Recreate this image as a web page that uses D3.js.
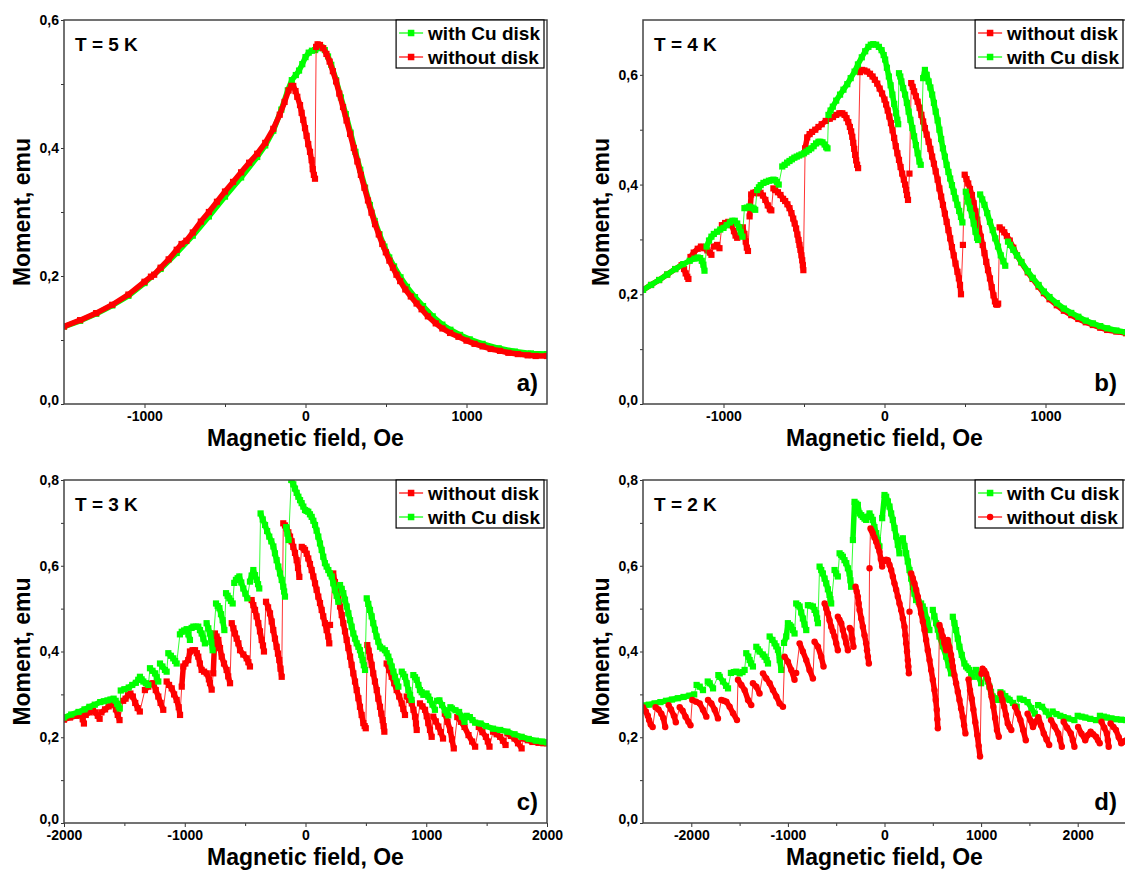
<!DOCTYPE html>
<html>
<head>
<meta charset="utf-8">
<script src="https://cdn.jsdelivr.net/npm/d3@7"></script>
<style>
  body { margin: 0; background: #fff; }
  svg text { font-family: "Liberation Sans", Arial, sans-serif; font-weight: bold; fill: #000; }
  .tick text { font-size: 14px; }
  .tick line { stroke: #333; }
</style>
</head>
<body>
<svg id="chart" width="1125" height="874"></svg>
<script>
// Moment vs champ magnétique, 4 températures (a: 5 K, b: 4 K, c: 3 K, d: 2 K)
// Chaque série = liste de branches [H (Oe), M (emu)], séparées par les sauts de flux

// --- a) T = 5 K
const aGreen = [[
  [-1500,.121],[-1400,.13],[-1300,.141],[-1200,.154],[-1100,.169],[-1000,.189],[-900,.211],[-800,.236],
  [-700,.263],[-600,.293],[-500,.324],[-400,.354],[-300,.386],[-250,.404],[-200,.427],[-150,.46],
  [-110,.49],[-85,.506],[-60,.514],[-40,.521],[-20,.531],[0,.542],[20,.549],[40,.552],[60,.553],
  [80,.556],[100,.557],[120,.553],[140,.543],[160,.53],[190,.506],[220,.479],[250,.453],[280,.424],
  [310,.394],[340,.366],[370,.338],[400,.311],[430,.286],[460,.265],[490,.246],[520,.229],[550,.215],
  [590,.198],[630,.183],[680,.167],[730,.153],[790,.137],[850,.124],[900,.116],[960,.108],[1020,.101],
  [1100,.094],[1200,.087],[1300,.082],[1400,.079],[1500,.078]
]];
const aRed = [
  [[-1500,.121],[-1400,.131],[-1300,.142],[-1200,.155],[-1100,.171],[-1000,.191],[-960,.199],[-940,.202],
   [-900,.213],[-850,.226],[-800,.241],[-770,.25],[-740,.255],[-700,.268],[-650,.285],[-600,.3],
   [-550,.316],[-500,.332],[-450,.347],[-400,.362],[-350,.377],[-300,.391],[-250,.408],[-200,.43],
   [-160,.452],[-130,.472],[-105,.49],[-88,.497],[-76,.497],[-62,.489],[-51,.48],[-34,.467],[-24,.455],
   [-14,.444],[-3,.431],[7,.419],[17,.406],[28,.394],[38,.381],[45,.367],[52,.358],[59,.352]],
  [[66,.558],[75,.562],[90,.561],[110,.556],[130,.547],[150,.535],[170,.52],[190,.504],[210,.485],
   [233,.464],[255,.443],[277,.422],[300,.4],[322,.379],[344,.358],[366,.338],[388,.318],[410,.299],
   [432,.281],[455,.265],[477,.25],[499,.237],[521,.224],[543,.213],[565,.202],[588,.192],[620,.179],
   [654,.168],[690,.157],[721,.148],[760,.137],[809,.126],[850,.118],[898,.111],[950,.105],[1000,.099],
   [1050,.094],[1100,.09],[1150,.086],[1208,.083],[1260,.08],[1319,.078],[1380,.076],[1430,.075],[1500,.075]]
];

// --- b) T = 4 K
const bRed = [
  [[-1500,.208],[-1450,.217],[-1400,.226],[-1350,.236],[-1300,.246],[-1260,.253],[-1245,.246],[-1235,.238],[-1225,.232],[-1218,.228]],
  [[-1205,.268],[-1185,.276],[-1160,.283],[-1140,.287],[-1120,.284],[-1100,.28],[-1085,.276],[-1075,.272]],
  [[-1060,.287],[-1040,.29],[-1025,.284]],
  [[-1010,.326],[-990,.33],[-970,.332],[-950,.326],[-935,.315],[-925,.307],[-915,.303]],
  [[-880,.322],[-870,.31],[-862,.296],[-855,.285],[-848,.279]],
  [[-838,.342],[-828,.382],[-815,.385],[-800,.386],[-785,.384],[-770,.385],[-755,.38],[-740,.372],[-725,.362],[-712,.355],[-703,.353]],
  [[-690,.393],[-679,.39],[-662,.386],[-646,.381],[-630,.374],[-617,.37],[-603,.364],[-590,.357],[-578,.348],
   [-567,.338],[-558,.329],[-549,.32],[-541,.309],[-534,.299],[-528,.29],[-522,.281],[-516,.271],[-511,.262],[-507,.253],[-504,.244]],
  [[-493,.466],[-480,.486],[-465,.492],[-450,.496],[-430,.5],[-410,.505],[-390,.51],[-365,.516],[-340,.52],
   [-320,.523],[-300,.527],[-280,.53],[-262,.53],[-248,.527],[-236,.521],[-225,.514],[-215,.505],[-207,.497],
   [-200,.487],[-194,.476],[-188,.465],[-182,.454],[-176,.444],[-170,.436],[-164,.43]],
  [[-152,.605],[-140,.609],[-125,.608],[-108,.606],[-90,.602],[-74,.597],[-60,.591],[-45,.584],[-30,.575],
   [-15,.566],[0,.555],[10,.546],[20,.535],[30,.524],[40,.512],[50,.499],[60,.485],[70,.47],[80,.457],
   [90,.445],[100,.432],[110,.42],[120,.409],[128,.4],[135,.39],[140,.381],[146,.372]],
  [[155,.42]],
  [[166,.585],[175,.578],[184,.57],[195,.561],[206,.551],[218,.54],[229,.527],[240,.515],[251,.503],[262,.491],
   [274,.478],[285,.465],[296,.451],[307,.438],[318,.424],[330,.409],[341,.393],[352,.378],[363,.363],[375,.347],
   [386,.332],[397,.317],[408,.302],[419,.286],[430,.271],[441,.256],[453,.241],[462,.229],[469,.217],[475,.2]],
  [[487,.29]],
  [[498,.418],[509,.41],[520,.402],[531,.392],[543,.381],[554,.366],[565,.351],[576,.336],[587,.32],[598,.305],
   [610,.29],[621,.275],[632,.259],[643,.244],[655,.229],[666,.213],[677,.198],[686,.187],[693,.182],[700,.181],[706,.183]],
  [[715,.322],[730,.318],[744,.313],[760,.306],[778,.298],[800,.285],[823,.271],[850,.258],[890,.24],[920,.228],
   [957,.214],[990,.202],[1025,.191],[1070,.18],[1114,.17],[1160,.162],[1204,.155],[1250,.149],[1294,.144],
   [1340,.139],[1383,.135],[1440,.132],[1500,.129]]
];
const bGreen = [
  [[-1500,.208],[-1450,.217],[-1400,.226],[-1350,.236],[-1300,.246],[-1250,.255],[-1210,.261],[-1180,.265],
   [-1160,.267],[-1145,.266],[-1135,.261],[-1125,.254],[-1118,.243]],
  [[-1105,.287],[-1090,.298],[-1075,.305],[-1060,.31],[-1040,.314],[-1020,.318],[-1000,.321],[-980,.326],
   [-960,.331],[-945,.334],[-930,.334],[-915,.329],[-903,.322],[-893,.313],[-882,.305]],
  [[-870,.357],[-855,.358],[-840,.36],[-825,.358],[-812,.356],[-803,.354]],
  [[-791,.39],[-780,.395],[-769,.399],[-752,.403],[-735,.405],[-718,.407],[-702,.408],[-690,.409],[-679,.408],[-668,.405],[-657,.4]],
  [[-635,.433],[-620,.436],[-605,.44],[-590,.443],[-575,.446],[-560,.449],[-545,.451],[-530,.453],[-515,.455],
   [-500,.457],[-485,.46],[-470,.463],[-455,.466],[-440,.47],[-425,.475],[-410,.478],[-399,.478],[-385,.477],
   [-372,.473],[-362,.468],[-354,.466]],
  [[-348,.527],[-335,.535],[-321,.542],[-300,.553],[-276,.564],[-255,.573],[-231,.583],[-210,.594],[-186,.606],
   [-165,.619],[-141,.632],[-120,.643],[-100,.651],[-85,.655],[-70,.656],[-52,.655],[-35,.651],[-18,.645],
   [-5,.636],[4,.628],[15,.613],[27,.597],[38,.581],[49,.564],[60,.547],[72,.53],[80,.518],[85,.51]],
  [[90,.603],[98,.597],[105,.588],[116,.576],[128,.564],[139,.549],[150,.533],[161,.518],[173,.503],[184,.488],
   [195,.472],[206,.457],[217,.442],[225,.436]],
  [[240,.594],[251,.609],[262,.6],[274,.588],[285,.577],[296,.564],[307,.549],[318,.533],[330,.517],[341,.5],
   [352,.483],[363,.466],[375,.451],[386,.436],[397,.423],[408,.411],[419,.399],[430,.387],[441,.375],[453,.363],
   [464,.352],[475,.341],[484,.331]],
  [[505,.387],[512,.378],[520,.369],[531,.357],[543,.344],[554,.329],[565,.314],[575,.303],[581,.299]],
  [[594,.382],[607,.373],[621,.363],[638,.348],[655,.332],[672,.317],[688,.302],[705,.287],[722,.271],[738,.26],[750,.252]],
  [[767,.296],[780,.29],[800,.281],[823,.271],[850,.259],[890,.242],[920,.23],[957,.217],[990,.205],[1025,.195],
   [1070,.184],[1114,.174],[1160,.166],[1204,.159],[1250,.152],[1294,.147],[1340,.142],[1383,.138],[1440,.134],[1500,.131]]
];

// --- c) T = 3 K
const cRed = [
  [[-2000,.241],[-1950,.246],[-1900,.25],[-1860,.252],[-1845,.242],[-1835,.232]],
  [[-1820,.252],[-1790,.258],[-1760,.262],[-1740,.258],[-1720,.25],[-1705,.243]],
  [[-1690,.258],[-1660,.265],[-1630,.272],[-1600,.278],[-1585,.276],[-1570,.265],[-1555,.252],[-1540,.24]],
  [[-1510,.285],[-1490,.29],[-1470,.298],[-1450,.302],[-1430,.295],[-1410,.28],[-1390,.268],[-1372,.26]],
  [[-1330,.31],[-1302,.318],[-1280,.325],[-1260,.326],[-1240,.31],[-1219,.295],[-1200,.28],[-1178,.264]],
  [[-1150,.33],[-1130,.322],[-1108,.314],[-1088,.3],[-1067,.287],[-1050,.27],[-1039,.252]],
  [[-1025,.318],[-1012,.365],[-995,.372],[-971,.38],[-957,.4],[-935,.403],[-915,.403],[-900,.396],[-888,.388],
   [-875,.372],[-860,.357],[-840,.353],[-818,.349],[-800,.335],[-791,.326],[-777,.311]],
  [[-764,.349],[-750,.442],[-736,.435],[-722,.427],[-708,.408],[-694,.388],[-675,.372],[-653,.357],[-640,.342],[-625,.326]],
  [[-611,.466],[-597,.454],[-584,.442],[-570,.43],[-556,.419],[-542,.403],[-515,.393],[-487,.384],[-473,.375],[-460,.365]],
  [[-446,.52],[-432,.508],[-418,.497],[-405,.482],[-391,.466],[-377,.447],[-363,.427],[-352,.414],[-344,.4]],
  [[-327,.516],[-310,.503],[-294,.489],[-280,.47],[-267,.45],[-253,.43],[-239,.411],[-228,.395],[-217,.38],[-207,.36],[-197,.341]],
  [[-184,.699],[-170,.694],[-156,.687],[-142,.678],[-128,.668],[-115,.657],[-101,.644],[-87,.63],[-73,.613],[-62,.595],[-51,.574]],
  [[-31,.644],[-17,.641],[-4,.637],[10,.628],[23,.617],[37,.604],[51,.59],[65,.575],[79,.559],[92,.544],[106,.528],
   [120,.513],[134,.497],[147,.482],[161,.466],[175,.45],[189,.435],[197,.419]],
  [[203,.462]],
  [[230,.582],[244,.562],[258,.543],[272,.524],[286,.505],[300,.485],[313,.466],[327,.447],[341,.427],[355,.408],
   [369,.388],[382,.369],[396,.349],[410,.33],[424,.31],[438,.291],[451,.271],[465,.252],[479,.233],[490,.226],[499,.221]],
  [[512,.415],[523,.402],[534,.388],[548,.369],[561,.349],[575,.33],[590,.31],[603,.29],[617,.271],[628,.255],[639,.24],[647,.226],[653,.213]],
  [[672,.372],[693,.357],[714,.341],[735,.326],[755,.31],[776,.295],[797,.279],[810,.266],[824,.252]],
  [[838,.295],[859,.287],[880,.279],[894,.264],[907,.248],[915,.232],[921,.217]],
  [[948,.279],[969,.272],[990,.264],[1004,.249],[1017,.233],[1031,.217],[1045,.201]],
  [[1058,.248],[1079,.237],[1100,.225],[1120,.212],[1139,.197]],
  [[1154,.255],[1176,.236],[1198,.217],[1213,.195],[1228,.174]],
  [[1257,.247],[1287,.236],[1317,.224],[1350,.205],[1380,.19],[1405,.178]],
  [[1435,.224],[1465,.212],[1494,.201],[1510,.19],[1524,.178]],
  [[1553,.213],[1583,.207],[1612,.201],[1635,.192],[1657,.182]],
  [[1672,.209],[1701,.203],[1731,.197],[1760,.186],[1790,.174]],
  [[1805,.197],[1840,.193],[1879,.189],[1930,.187],[1970,.186],[2000,.186]]
];
const cGreen = [
  [[-2000,.246],[-1940,.253],[-1880,.259],[-1830,.265],[-1790,.271],[-1745,.276],[-1700,.282],[-1670,.284],
   [-1640,.286],[-1615,.288],[-1589,.29],[-1572,.285],[-1560,.278],[-1548,.272],[-1538,.267]],
  [[-1530,.309],[-1500,.312],[-1464,.316],[-1435,.322],[-1405,.327],[-1385,.334],[-1371,.341],[-1357,.335],[-1343,.33],[-1322,.326],[-1301,.322]],
  [[-1288,.361],[-1267,.355],[-1246,.349],[-1232,.34],[-1219,.33]],
  [[-1205,.372],[-1185,.365],[-1164,.357],[-1150,.353]],
  [[-1136,.396],[-1115,.39],[-1095,.384],[-1080,.378],[-1067,.372]],
  [[-1040,.44],[-1025,.446],[-1005,.449],[-984,.452],[-970,.44],[-957,.427]],
  [[-943,.455],[-929,.458],[-908,.458],[-888,.458],[-874,.45],[-860,.442],[-846,.43],[-833,.419]],
  [[-819,.466],[-805,.454],[-791,.442],[-780,.422],[-769,.403]],
  [[-741,.512],[-727,.506],[-713,.501],[-700,.487],[-686,.473],[-672,.45]],
  [[-658,.536],[-645,.53],[-631,.524],[-617,.518],[-603,.512]],
  [[-590,.56],[-576,.567],[-562,.571],[-548,.575],[-532,.561],[-515,.547],[-498,.535],[-482,.524]],
  [[-460,.563],[-446,.577],[-432,.59],[-418,.578],[-404,.567],[-393,.557],[-383,.547]],
  [[-372,.722],[-354,.708],[-335,.695],[-318,.681],[-300,.668],[-283,.657],[-266,.645],[-253,.629],[-239,.613],
   [-225,.598],[-211,.582],[-197,.567],[-184,.551],[-177,.54],[-170,.528]],
  [[-160,.69],[-150,.675],[-140,.66]],
  [[-118,.8],[-101,.79],[-87,.78],[-73,.77],[-59,.761],[-45,.753],[-32,.746],[-18,.738],[-4,.73],[9,.728],[23,.726],
   [37,.72],[51,.714],[65,.705],[79,.695],[92,.682],[106,.668],[120,.652],[134,.637],[147,.621],[161,.606],[175,.598],
   [189,.59],[203,.582],[217,.575],[230,.559],[244,.543],[258,.53],[272,.516]],
  [[286,.555],[300,.546],[313,.536],[327,.521],[341,.505],[355,.489],[369,.473],[382,.458],[396,.442],[410,.43],
   [424,.419],[438,.411],[451,.403],[462,.392],[473,.38],[483,.368],[493,.357]],
  [[507,.524],[520,.511],[534,.497],[548,.482],[561,.466],[575,.451],[589,.435],[603,.423],[617,.411],[637,.407],
   [658,.403],[672,.396],[686,.388],[700,.377],[714,.365],[728,.353],[741,.341],[755,.33],[769,.318]],
  [[797,.353],[810,.347],[824,.341],[838,.326],[852,.31],[866,.299],[879,.287]],
  [[893,.345],[907,.34],[921,.334],[935,.322],[948,.31],[962,.305],[976,.299],[990,.3],[1003,.302],[1017,.295],
   [1031,.287],[1052,.276],[1072,.264]],
  [[1090,.285],[1109,.286],[1131,.275],[1154,.263],[1170,.257],[1183,.251]],
  [[1200,.27],[1213,.267],[1242,.263],[1272,.259],[1295,.248],[1317,.236]],
  [[1335,.25],[1361,.247],[1383,.24],[1405,.234],[1450,.232],[1494,.226],[1553,.22],[1612,.217],[1672,.213],
   [1731,.207],[1790,.201],[1849,.196],[1908,.192],[1960,.19],[2000,.188]]
];

// --- d) T = 2 K
const dGreen = [
  [[-2500,.274],[-2440,.276],[-2380,.279],[-2320,.282],[-2260,.285],[-2200,.288],[-2140,.291],[-2080,.294],[-2020,.297],[-1970,.3]],
  [[-1945,.322],[-1913,.318],[-1879,.31]],
  [[-1830,.33],[-1810,.326],[-1775,.314]],
  [[-1720,.345],[-1706,.341],[-1672,.33],[-1640,.32],[-1620,.314]],
  [[-1590,.35],[-1560,.352],[-1534,.353],[-1499,.349],[-1470,.352],[-1448,.357]],
  [[-1431,.396],[-1410,.388],[-1396,.38],[-1380,.372],[-1362,.365]],
  [[-1327,.411],[-1310,.405],[-1293,.4],[-1260,.393],[-1241,.388],[-1220,.38],[-1206,.372]],
  [[-1189,.435],[-1160,.427],[-1138,.419],[-1120,.412],[-1103,.404],[-1085,.38],[-1069,.357]],
  [[-1040,.42],[-1017,.435],[-1000,.466],[-982,.462],[-965,.458],[-948,.45],[-931,.442]],
  [[-914,.512],[-896,.508],[-879,.505],[-862,.491],[-845,.477],[-828,.463],[-810,.45]],
  [[-793,.508],[-767,.507],[-741,.505],[-724,.497],[-707,.489],[-698,.477],[-689,.466]],
  [[-672,.598],[-655,.59],[-638,.582],[-620,.57],[-603,.559],[-586,.545],[-569,.532],[-560,.522],[-552,.512]],
  [[-517,.59],[-500,.582],[-483,.575]],
  [[-465,.629],[-448,.625],[-431,.621],[-414,.613],[-396,.606],[-379,.594],[-362,.582],[-353,.566],[-345,.551]],
  [[-327,.66],[-310,.749],[-293,.745],[-276,.742],[-258,.722],[-241,.718],[-224,.714],[-207,.71],[-190,.707],
   [-172,.714],[-155,.722],[-138,.714],[-121,.707],[-104,.69],[-86,.676],[-69,.66],[-52,.645]],
  [[-24,.711],[0,.765],[17,.761],[35,.75],[52,.738],[69,.722],[86,.707],[104,.688],[121,.668],[138,.649],[155,.629]],
  [[172,.66],[190,.664],[207,.646],[224,.629],[241,.61],[259,.59],[276,.57],[293,.551],[310,.535],[327,.52],
   [353,.516],[379,.512],[396,.505],[414,.497],[440,.474],[465,.45]],
  [[500,.497],[517,.482],[534,.466],[552,.451],[569,.435],[603,.412],[638,.388],[663,.368],[689,.349]],
  [[707,.481],[724,.466],[741,.45],[759,.43],[776,.411],[800,.392],[827,.372],[845,.365],[862,.361],[879,.357],[897,.349],[914,.341]],
  [[948,.357],[974,.341],[1000,.326]],
  [[1051,.341],[1069,.33],[1086,.318],[1103,.306],[1120,.295],[1146,.291],[1172,.287]],
  [[1200,.305],[1220,.302],[1250,.296],[1275,.29],[1295,.287],[1330,.28],[1369,.271]],
  [[1400,.29],[1440,.287],[1481,.282],[1520,.268],[1556,.255]],
  [[1590,.275],[1631,.271],[1670,.26],[1705,.251]],
  [[1740,.26],[1780,.254],[1820,.25],[1854,.247],[1900,.244],[1966,.24]],
  [[2000,.25],[2040,.248],[2078,.246],[2130,.243],[2190,.24]],
  [[2230,.25],[2270,.248],[2302,.246],[2350,.244],[2400,.242],[2450,.241],[2500,.24]]
];
const dRed = [
  [[-2500,.27],[-2470,.26],[-2450,.25],[-2437,.24],[-2420,.23],[-2400,.224]],
  [[-2370,.27],[-2340,.265],[-2310,.255],[-2290,.245],[-2270,.224]],
  [[-2235,.275],[-2210,.265],[-2180,.25],[-2160,.235]],
  [[-2120,.27],[-2090,.262],[-2060,.248],[-2030,.236],[-2008,.228]],
  [[-1990,.287],[-1950,.283],[-1913,.279],[-1879,.264],[-1844,.248]],
  [[-1827,.287],[-1793,.279],[-1758,.264],[-1724,.244]],
  [[-1689,.287],[-1663,.285],[-1637,.283],[-1603,.271],[-1568,.256],[-1527,.24]],
  [[-1517,.334],[-1482,.322],[-1448,.31],[-1413,.287],[-1379,.275]],
  [[-1362,.326],[-1327,.318],[-1293,.302]],
  [[-1258,.349],[-1224,.337],[-1189,.326],[-1155,.31],[-1120,.295],[-1086,.279],[-1051,.271]],
  [[-1034,.388],[-1000,.376],[-965,.357],[-931,.334]],
  [[-914,.35]],
  [[-879,.419],[-845,.4],[-810,.38],[-776,.357],[-741,.337]],
  [[-724,.423],[-689,.411],[-655,.388],[-631,.365]],
  [[-620,.512],[-603,.5],[-586,.489],[-569,.473],[-552,.458],[-535,.447],[-517,.435],[-500,.419],[-483,.403]],
  [[-483,.481],[-466,.474],[-448,.466],[-431,.45],[-414,.435],[-396,.419],[-379,.403]],
  [[-360,.455],[-345,.45],[-333,.43],[-321,.411]],
  [[-300,.551],[-288,.54],[-276,.528],[-267,.512],[-258,.497],[-241,.477],[-224,.458],[-207,.438],[-190,.419],[-181,.403],[-172,.388],[-162,.372]],
  [[-155,.594]],
  [[-145,.687],[-133,.682],[-121,.676],[-104,.666],[-86,.656],[-69,.645],[-52,.633],[-38,.616],[-24,.598]],
  [[-10,.61],[0,.613],[17,.614],[34,.613],[52,.602],[69,.59],[86,.575],[103,.559],[121,.544],[138,.528],[155,.512],
   [172,.497],[190,.477],[207,.458],[216,.438],[224,.419],[233,.4],[241,.38],[247,.365],[252,.349]],
  [[259,.493]],
  [[276,.582],[293,.571],[310,.559],[328,.544],[345,.528],[362,.509],[379,.489],[397,.47],[414,.45],[431,.427],
   [448,.403],[466,.38],[483,.357],[500,.334],[517,.31],[530,.287],[541,.264],[547,.242],[552,.221]],
  [[569,.462],[586,.449],[603,.435],[620,.419],[638,.403]],
  [[655,.427],[672,.41],[689,.392],[698,.379],[707,.365],[724,.345],[741,.326],[759,.306],[776,.287],[793,.267],[810,.248],[824,.228],[838,.209]],
  [[870,.335],[885,.31],[903,.29],[920,.265],[940,.235],[960,.205],[975,.18],[989,.155]],
  [[1004,.348],[1015,.36],[1034,.355],[1052,.348],[1070,.335],[1090,.317],[1108,.295],[1127,.271],[1145,.245],[1164,.217],[1183,.201]],
  [[1201,.302],[1220,.287],[1239,.271],[1257,.252],[1276,.232],[1295,.224],[1313,.217]],
  [[1351,.271],[1380,.256],[1407,.24],[1435,.217],[1463,.193]],
  [[1481,.255],[1510,.24],[1537,.224],[1565,.236],[1593,.247],[1620,.228],[1649,.209],[1677,.195],[1705,.182]],
  [[1724,.24],[1760,.225],[1799,.209],[1818,.194],[1836,.178]],
  [[1854,.236],[1890,.222],[1929,.209],[1950,.193],[1966,.178]],
  [[2004,.224],[2040,.208],[2078,.193],[2105,.205],[2134,.213],[2160,.207],[2190,.201],[2210,.193],[2228,.186]],
  [[2246,.236],[2275,.222],[2302,.209],[2312,.193],[2321,.178]],
  [[2340,.232],[2370,.224],[2396,.217],[2425,.2],[2451,.186],[2475,.19],[2500,.193]]
];

// Graduations
const xMajorAB = [-1000, 0, 1000];
const xMinorAB = [-500, 500];
const xMajorCD = [-2000, -1000, 0, 1000, 2000];
const xMinorCD = [-1500, -500, 500, 1500];
const yMajor6 = [0, 0.2, 0.4, 0.6];
const yMinor6 = [0.1, 0.3, 0.5];
const yMajor8 = [0, 0.2, 0.4, 0.6, 0.8];
const yMinor8 = [0.1, 0.3, 0.5, 0.7];

const RED = "#ff0000", GREEN = "#00ff00";

const panels = [
  { box: [64, 547, 20, 404], xDomain: [-1500, 1500], yDomain: [0, 0.6], xMajor: xMajorAB, xMinor: xMinorAB,
    yMajor: yMajor6, yMinor: yMinor6, temp: "T = 5 K", letter: "a)",
    series: [{ name: "with Cu disk", data: aGreen, color: GREEN, shape: "square" },
             { name: "without disk", data: aRed, color: RED, shape: "square" }] },
  { box: [643, 1126, 20, 404], xDomain: [-1500, 1500], yDomain: [0, 0.7], xMajor: xMajorAB, xMinor: xMinorAB,
    yMajor: yMajor6, yMinor: yMinor6, temp: "T = 4 K", letter: "b)",
    series: [{ name: "without disk", data: bRed, color: RED, shape: "square" },
             { name: "with Cu disk", data: bGreen, color: GREEN, shape: "square" }] },
  { box: [64, 547, 480, 823], xDomain: [-2000, 2000], yDomain: [0, 0.8], xMajor: xMajorCD, xMinor: xMinorCD,
    yMajor: yMajor8, yMinor: yMinor8, temp: "T = 3 K", letter: "c)",
    series: [{ name: "without disk", data: cRed, color: RED, shape: "square" },
             { name: "with Cu disk", data: cGreen, color: GREEN, shape: "square" }] },
  { box: [643, 1126, 480, 823], xDomain: [-2500, 2500], yDomain: [0, 0.8], xMajor: xMajorCD, xMinor: xMinorCD,
    yMajor: yMajor8, yMinor: yMinor8, temp: "T = 2 K", letter: "d)",
    series: [{ name: "with Cu disk", data: dGreen, color: GREEN, shape: "square" },
             { name: "without disk", data: dRed, color: RED, shape: "circle" }] }
];

const svg = d3.select("#chart");
svg.append("rect").attr("width", 1125).attr("height", 874).attr("fill", "#fff");

const fmtY = d => d.toFixed(1).replace(".", ",");

function marker(sel, shape, color, size) {
  if (shape === "circle") {
    sel.append("circle").attr("r", size / 2).attr("fill", color);
  } else {
    sel.append("rect").attr("x", -size / 2).attr("y", -size / 2)
      .attr("width", size).attr("height", size).attr("fill", color);
  }
}

panels.forEach((p, i) => {
  const [x0, x1, y0, y1] = p.box;
  const x = d3.scaleLinear().domain(p.xDomain).range([x0, x1]);
  const y = d3.scaleLinear().domain(p.yDomain).range([y1, y0]);
  const g = svg.append("g");

  const clipId = "clip" + i;
  svg.append("clipPath").attr("id", clipId)
    .append("rect").attr("x", x0).attr("y", y0).attr("width", x1 - x0).attr("height", y1 - y0);

  // Axes
  g.append("g").attr("transform", `translate(0,${y1})`)
    .call(d3.axisBottom(x).tickValues(p.xMajor).tickFormat(d => String(d)).tickSize(4).tickPadding(3).tickSizeOuter(0))
    .call(a => a.select(".domain").remove());
  g.append("g").attr("transform", `translate(0,${y1})`)
    .call(d3.axisBottom(x).tickValues(p.xMinor).tickFormat("").tickSize(3).tickSizeOuter(0))
    .call(a => a.select(".domain").remove());
  g.append("g").attr("transform", `translate(${x0},0)`)
    .call(d3.axisLeft(y).tickValues(p.yMajor).tickFormat(fmtY).tickSize(3).tickPadding(2).tickSizeOuter(0))
    .call(a => a.select(".domain").remove())
    // "0,0" remonté d'un cheveu pour ne pas chevaucher le premier libellé de l'axe X
    .call(a => a.selectAll(".tick text").filter(d => d === 0).attr("dy", "0.05em"));
  g.append("g").attr("transform", `translate(${x0},0)`)
    .call(d3.axisLeft(y).tickValues(p.yMinor).tickFormat("").tickSize(3).tickSizeOuter(0))
    .call(a => a.select(".domain").remove());

  // Courbes : trait fin continu + bande épaisse par branche + marqueurs
  const plot = g.append("g").attr("clip-path", `url(#${clipId})`);
  const line = d3.line().x(d => x(d[0])).y(d => y(d[1]));
  p.series.forEach(s => {
    const pts = s.data.flat();
    plot.append("path").attr("d", line(pts)).attr("fill", "none")
      .attr("stroke", s.color).attr("stroke-width", 1).attr("stroke-opacity", 0.8);
    s.data.filter(b => b.length > 1).forEach(b => {
      plot.append("path").attr("d", line(b)).attr("fill", "none")
        .attr("stroke", s.color).attr("stroke-width", 5.5).attr("stroke-linejoin", "round");
    });
    const m = plot.append("g").selectAll("g").data(pts).join("g")
      .attr("transform", d => `translate(${x(d[0])},${y(d[1])})`);
    marker(m, s.shape, s.color, s.shape === "circle" ? 6.4 : 6.2);
  });

  // Cadre
  g.append("rect").attr("x", x0).attr("y", y0).attr("width", x1 - x0).attr("height", y1 - y0)
    .attr("fill", "none").attr("stroke", "#444").attr("stroke-width", 1.5);

  // Légende
  const leg = g.append("g");
  const texts = p.series.map((s, k) => leg.append("text").attr("font-size", 19)
    .attr("y", y0 + 13 + k * 24).attr("dy", "0.35em").text(s.name));
  const tw = d3.max(texts, t => t.node().getComputedTextLength());
  const boxW = tw + 36;
  const bx = x1 - 3 - boxW;
  leg.insert("rect", "text").attr("x", bx).attr("y", y0).attr("width", boxW).attr("height", 48)
    .attr("fill", "#fff").attr("stroke", "#000").attr("stroke-width", 1.2);
  p.series.forEach((s, k) => {
    const cy = y0 + 13 + k * 24;
    texts[k].attr("x", bx + 32);
    leg.append("line").attr("x1", bx + 3).attr("x2", bx + 27).attr("y1", cy).attr("y2", cy)
      .attr("stroke", s.color).attr("stroke-width", 1.2);
    const mk = leg.append("g").attr("transform", `translate(${bx + 15},${cy})`);
    marker(mk, s.shape, s.color, 6.5);
  });

  // Textes
  g.append("text").attr("x", x0 + 11).attr("y", y0 + 31).attr("font-size", 19).text(p.temp);
  g.append("text").attr("x", x1 - 9).attr("y", y1 - 13).attr("font-size", 24)
    .attr("text-anchor", "end").text(p.letter);
  g.append("text").attr("x", (x0 + x1) / 2).attr("y", y1 + 42).attr("font-size", 23)
    .attr("text-anchor", "middle").text("Magnetic field, Oe");
  g.append("text").attr("transform", `translate(${x0 - 34},${(y0 + y1) / 2}) rotate(-90)`)
    .attr("font-size", 23).attr("text-anchor", "middle").text("Moment, emu");
});
</script>
</body>
</html>
